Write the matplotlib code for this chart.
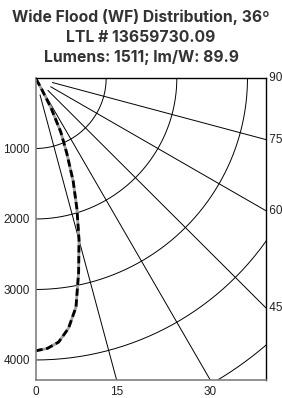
import numpy as np
import matplotlib
matplotlib.use("Agg")
import matplotlib.pyplot as plt

# candela distribution
angles = [0, 2.5, 5, 7.5, 10, 12.5, 15, 17.5, 20, 22.5, 25, 27.5, 29, 30]
candela = [3870, 3840, 3760, 3580, 3300, 2820, 2380, 1950, 1560, 1160, 850, 470, 150, 0]

rings = [1000, 2000, 3000, 4000, 5000]
spokes = [15, 30, 45, 60, 75]
left_ticks = [1000, 2000, 3000, 4000]
bottom_labels = [0, 15, 30]
right_labels = [90, 75, 60, 45]

title = "Wide Flood (WF) Distribution, 36º\nLTL # 13659730.09\nLumens: 1511; lm/W: 89.9"

xmax, ymax = 3262, 4284

fig = plt.figure(figsize=(2.82, 3.98), dpi=100)
ax = fig.add_axes([35.5 / 282, 1 - 380 / 398, 230.5 / 282, 302 / 398])
ax.set_xlim(0, xmax)
ax.set_ylim(ymax, 0)

t = np.radians(np.linspace(0, 90, 200))
for r in rings:
    ax.plot(r * np.sin(t), r * np.cos(t), color="black", lw=0.7)
for a in spokes:
    ar = np.radians(a)
    ax.plot([250 * np.sin(ar), 9000 * np.sin(ar)], [250 * np.cos(ar), 9000 * np.cos(ar)],
            color="black", lw=0.7)

th = np.radians(angles)
cd = np.array(candela)
ax.plot(cd * np.sin(th), cd * np.cos(th), color="#a0a0a0", lw=2.0, solid_capstyle="butt")
ax.plot(cd * np.sin(th), cd * np.cos(th), color="black", lw=2.0, dashes=(2.6, 1.3))

ax.set_yticks(left_ticks)
ax.set_yticklabels([str(v) for v in left_ticks])
ax.set_xticks([ymax * np.tan(np.radians(a)) for a in bottom_labels])
ax.set_xticklabels([str(v) for v in bottom_labels])
ax.tick_params(length=0, labelsize=8.5, colors="#222222", pad=4)
for lab in ax.get_xticklabels() + ax.get_yticklabels():
    lab.set_family("Liberation Sans")
for a in right_labels:
    ax.text(xmax, xmax / np.tan(np.radians(a)), " " + str(a), fontsize=8.5, color="#222222",
            va="center", ha="left", clip_on=False, family="Liberation Sans")

for s in ["left", "bottom"]:
    ax.spines[s].set_color("#808080")
    ax.spines[s].set_linewidth(1.2)
for s in ["right", "top"]:
    ax.spines[s].set_color("black")
    ax.spines[s].set_linewidth(1.0)

fig.text(0.5, 1 - 37 / 398, title, ha="center", va="center", fontsize=11.3,
         fontweight="bold", color="#333333", family="Inter", linespacing=1.4)

fig.savefig("out.png", dpi=100)
